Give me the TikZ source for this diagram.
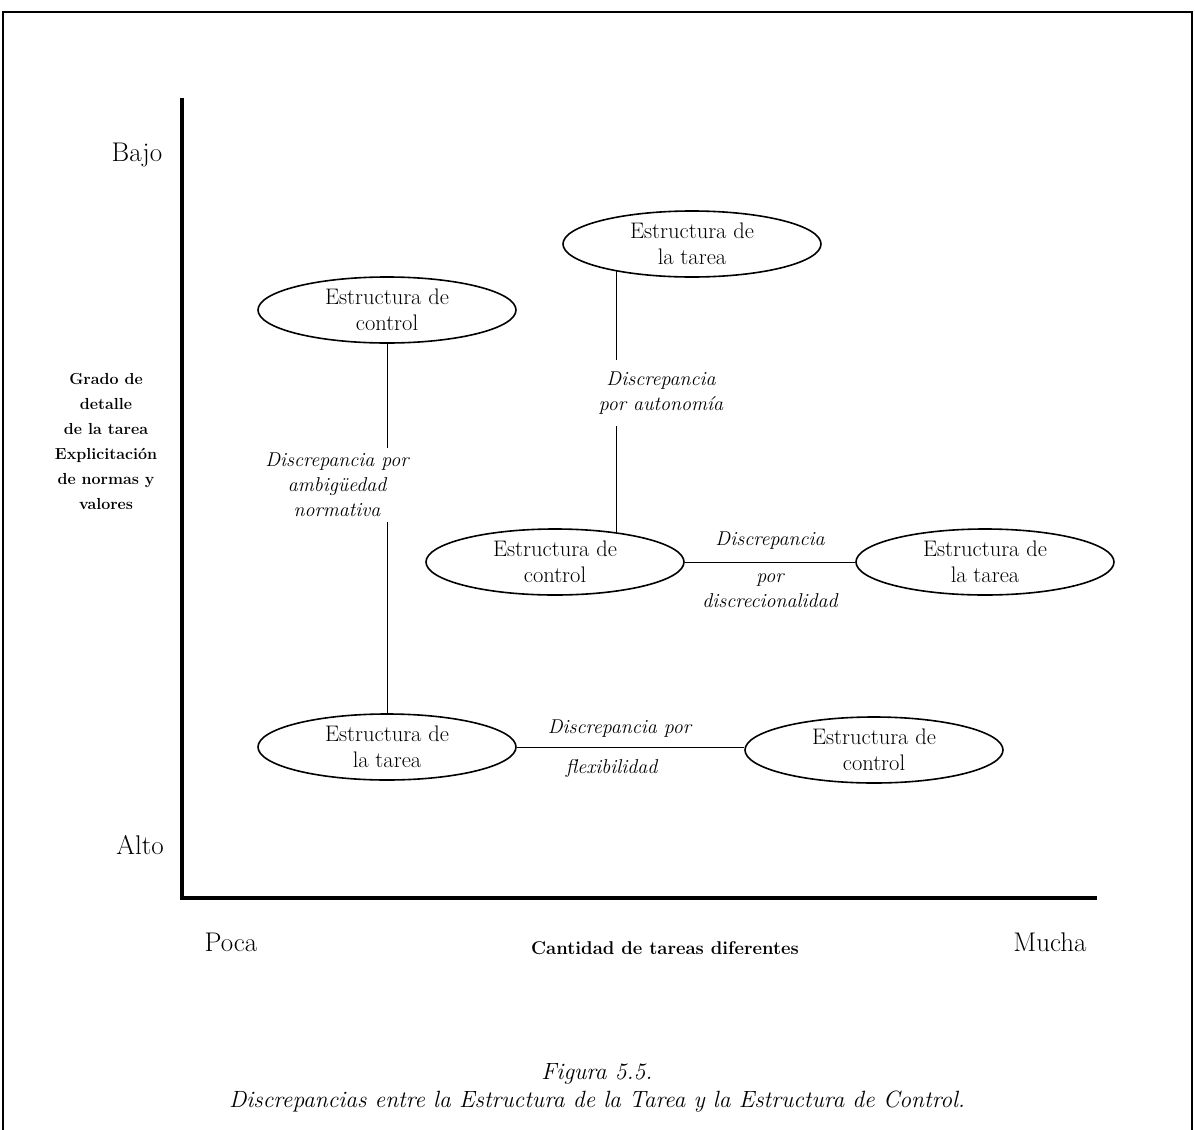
\documentclass[tikz,border=0pt]{standalone}
\usepackage{fontspec}
\usepackage{tikz}
\usetikzlibrary{shapes.geometric}
\tikzstyle{estructura} = [ellipse, draw=black, line width=1.6pt, minimum width=258pt, minimum height=66pt, inner sep=0pt, align=center, font=\fontsize{22.5}{26}\selectfont]
\tikzstyle{enlace} = [line width=0.8pt]
\tikzstyle{discrepancia} = [align=center, font=\fontsize{20}{25}\selectfont\itshape]
\tikzstyle{eje} = [line width=3.5pt]
\tikzstyle{extremo} = [font=\fontsize{27}{30}\selectfont]

\begin{document}
\begin{tikzpicture}[x=1pt, y=-1pt]
        \useasboundingbox (0,0) rectangle (1195,1130);
        % marco
        \draw [line width=1.5pt] (3,1130) -- (3,12) -- (1192,12) -- (1192,1130);

        % ejes
        \coordinate (origen) at (182,898);
        \coordinate (arriba) at (182,98);
        \coordinate (derecha) at (1097,898);
        \draw [eje] (arriba) -- (origen) -- (derecha);

        \node (bajo) [extremo] at (137,155) {Bajo};
        \node (alto) [extremo] at (140,845) {Alto};
        \node (poca) [extremo] at (231,942) {Poca};
        \node (mucha) [extremo] at (1050,942) {Mucha};
        \node (grado) [align=center, font=\fontsize{16}{25}\selectfont\bfseries] at (106,441) {Grado de\\detalle\\de la tarea\\Explicitación\\de normas y\\valores};
        \node (cantidad) [font=\fontsize{18.5}{20}\selectfont\bfseries] at (665,948) {Cantidad de tareas diferentes};

        % estructuras
        \node (controlA) [estructura] at (387,310) {Estructura de\\control};
        \node (tareaA) [estructura] at (692,244) {Estructura de\\la tarea};
        \node (controlB) [estructura] at (555,562) {Estructura de\\control};
        \node (tareaB) [estructura] at (985,562) {Estructura de\\la tarea};
        \node (tareaC) [estructura] at (387,747) {Estructura de\\la tarea};
        \node (controlC) [estructura] at (874,750) {Estructura de\\control};

        % discrepancias
        \draw [enlace] (controlA) -- (tareaC);
        \node (ambiguedad) [discrepancia, fill=white, inner ysep=5pt] at (337,485) {Discrepancia por\\ambigüedad\\normativa};

        \draw [enlace] (tareaA.200) -- (tareaA.200 |- controlB.25);
        \node (autonomia) [discrepancia, fill=white, inner ysep=12pt] at (661,393) {Discrepancia\\por autonomía};

        \draw [enlace] (controlB) -- node[discrepancia, above, yshift=9pt] {Discrepancia} node[discrepancia, below, yshift=-8pt] {por\\discrecionalidad} (tareaB);

        \draw [enlace] (tareaC.east) -- node[discrepancia, above, xshift=-11pt, yshift=6pt] {Discrepancia por} node[discrepancia, below, xshift=-19pt, yshift=-9pt] {flexibilidad} (controlC.west |- tareaC.east);

        % pie
        \node (figura) [font=\fontsize{23.5}{28}\selectfont\itshape, align=center] at (597,1088) {Figura 5.5.\\Discrepancias entre la Estructura de la Tarea y la Estructura de Control.};
\end{tikzpicture}
\end{document}
